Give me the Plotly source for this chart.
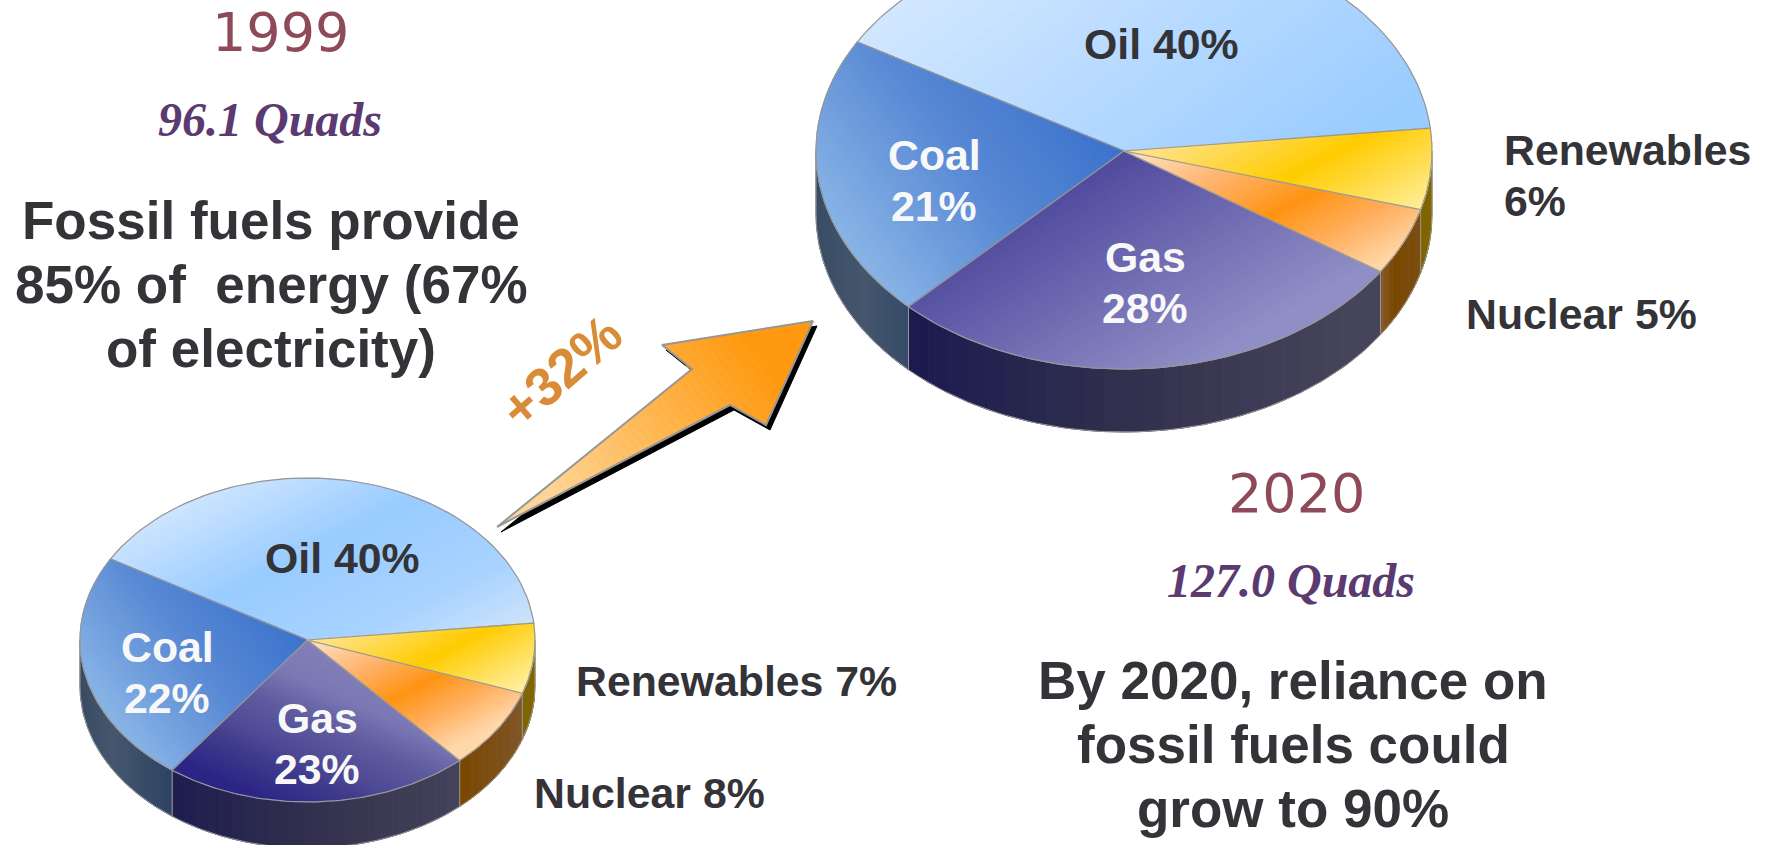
import numpy as np
import plotly.graph_objects as go

W, H = 1771, 845

fuels = ['Oil', 'Coal', 'Gas', 'Nuclear', 'Renewables']
shares_1999 = [40, 22, 23, 8, 7]
shares_2020 = [40, 21, 28, 5, 6]
# wedge sizes as drawn in the 1999 pie, coal is a bit wider than its label says
wedges_1999 = [40, 23.2, 21.8, 8, 7]
wedges_2020 = [40, 21, 28, 5, 6]
quads_1999 = 96.1
quads_2020 = 127.0
growth_pct = 32

DARK = '#333338'
EDGE = '#979797'

# gradient = (direction, [(position, colour), ...]), position is in pie radii from the centre
coal_top = ((-0.8, 0.6), [(0, '#3a72cc'), (0.45, '#5a8ad5'), (0.9, '#88b4e6')])
nuclear_top = ((0.47, 0.88), [(0.05, '#ffdcb4'), (0.22, '#ffb470'), (0.41, '#ff9412'),
                              (0.56, '#ffae5c'), (0.72, '#ffd8aa')])
renew_top = ((0.47, 0.88), [(0.03, '#ffe48c'), (0.33, '#ffcc00'), (0.62, '#ffee99')])
coal_side = ((1, 0), [(-1, '#3a4c64'), (-0.85, '#45576e'), (-0.55, '#2a3f62')])
gas_side = ((1, 0), [(-0.7, '#1b1a50'), (0, '#32304e'), (0.7, '#46445a')])
renew_side = ((1, 0), [(0.9, '#806600'), (1, '#806600')])

small_pie = dict(cx=307.5, cy=640, rx=227.5, ry=162, depth=46, start=6, top={
    'Oil': ((0.45, 0.89), [(-0.9, '#dcecff'), (-0.34, '#99ccff'), (0.08, '#a8d3ff'), (0.42, '#d2e6fb')]),
    'Coal': coal_top,
    'Gas': ((0.4, -0.9), [(-0.72, '#2a2585'), (-0.55, '#403c8c'), (-0.47, '#4e4a95'),
                          (-0.31, '#5f5ca0'), (-0.17, '#7a78b4'), (0.03, '#8580b8')]),
    'Nuclear': nuclear_top, 'Renewables': renew_top},
    side={'Coal': coal_side, 'Gas': gas_side, 'Renewables': renew_side,
          'Nuclear': ((1, 0), [(0.67, '#7a4800'), (0.95, '#80562a')])})

big_pie = dict(cx=1124, cy=151, rx=308, ry=218, depth=63, start=6, top={
    'Oil': ((0.6, 0.8), [(-0.9, '#d6e9ff'), (0.45, '#99ccff'), (1, '#99ccff')]),
    'Coal': coal_top,
    'Gas': ((0.5, 0.85), [(0, '#504a9e'), (0.72, '#908ec6')]),
    'Nuclear': nuclear_top, 'Renewables': renew_top},
    side={'Coal': coal_side, 'Gas': gas_side, 'Renewables': renew_side,
          'Nuclear': ((1, 0), [(0.83, '#8a5c34'), (0.88, '#7a4800'), (0.96, '#7c4e14')])})

fig = go.Figure()


def hex_rgb(c):
    return [int(c[i:i + 2], 16) for i in (1, 3, 5)]


def colour_at(stops, t):
    pos = [s[0] for s in stops]
    rgb = [hex_rgb(s[1]) for s in stops]
    vals = [int(np.interp(t, pos, [c[i] for c in rgb])) for i in range(3)]
    return 'rgb(%d,%d,%d)' % tuple(vals)


def clip(poly, d, limit, keep_above):
    # half plane clip of a polygon, keeps p.d >= limit or p.d <= limit
    out = []
    sign = 1 if keep_above else -1
    for i in range(len(poly)):
        p, q = poly[i], poly[(i + 1) % len(poly)]
        a = sign * (p[0] * d[0] + p[1] * d[1] - limit)
        b = sign * (q[0] * d[0] + q[1] * d[1] - limit)
        if a >= 0:
            out.append(p)
        if a * b < 0:
            f = a / (a - b)
            out.append((p[0] + f * (q[0] - p[0]), p[1] + f * (q[1] - p[1])))
    return out


def add_poly(pts, colour, width=1):
    xs = [p[0] for p in pts] + [pts[0][0]]
    ys = [p[1] for p in pts] + [pts[0][1]]
    fig.add_trace(go.Scatter(x=xs, y=ys, mode='lines', fill='toself', fillcolor=colour,
                             line=dict(color=colour, width=width), hoverinfo='skip',
                             showlegend=False))


def add_gradient(pts, grad, cx, cy, scale, n=40):
    # plotly fills only do axis aligned gradients, so cut the shape into thin bands
    d, stops = grad
    norm = np.hypot(d[0], d[1])
    d = (d[0] / norm, d[1] / norm)
    rel = [((x - cx) / scale, (y - cy) / scale) for x, y in pts]
    proj = [p[0] * d[0] + p[1] * d[1] for p in rel]
    edges = np.linspace(min(proj), max(proj), n + 1)
    for lo, hi in zip(edges[:-1], edges[1:]):
        band = clip(clip(rel, d, lo, True), d, hi, False)
        if len(band) > 2:
            add_poly([(x * scale + cx, y * scale + cy) for x, y in band],
                     colour_at(stops, (lo + hi) / 2))


def add_outline(pts, width=1.2):
    xs = [p[0] for p in pts] + [pts[0][0]]
    ys = [p[1] for p in pts] + [pts[0][1]]
    fig.add_trace(go.Scatter(x=xs, y=ys, mode='lines', line=dict(color=EDGE, width=width),
                             hoverinfo='skip', showlegend=False))


def add_pie(pie, shares):
    cx, cy, rx, ry, depth = pie['cx'], pie['cy'], pie['rx'], pie['ry'], pie['depth']
    ends = pie['start'] + np.cumsum(shares) * 3.6
    starts = np.concatenate([[pie['start']], ends[:-1]])

    def arc(a, b, drop=0):
        t = np.radians(np.linspace(a, b, 80))
        return list(zip(cx + rx * np.cos(t), cy - ry * np.sin(t) + drop))

    # front walls first, only the part of each slice below the ellipse centre shows
    for name, a, b in zip(fuels, starts, ends):
        lo, hi = max(a, 180), min(b, 360)
        if hi > lo:
            wall = arc(lo, hi) + arc(hi, lo, depth)
            add_gradient(wall, pie['side'][name], cx, cy, rx, n=24)
            add_outline(wall, 1)
    for name, a, b in zip(fuels, starts, ends):
        wedge = [(cx, cy)] + arc(a, b)
        add_gradient(wedge, pie['top'][name], cx, cy, rx, n=50)
        add_outline(wedge)


add_pie(small_pie, wedges_1999)
add_pie(big_pie, wedges_2020)

# growth arrow
arrow = [(497, 527), (692, 369), (662, 345), (813, 321), (766, 425), (730, 405)]
add_poly([(x + 4, y + 5) for x, y in arrow], 'black')
add_gradient(arrow, ((0.8, -0.6), [(-0.42, '#ffd595'), (0.42, '#ff9a10')]), 655, 424, 300, n=50)
add_outline(arrow, 2)

SANS = 'Liberation Sans'
SERIF = 'Liberation Serif'
THIN = 'DejaVu Sans ExtraLight, DejaVu Sans'


def label(text, x, y, size=42.8, colour=DARK, family=SANS, bold=True, italic=False,
          anchor='center', angle=0):
    if bold:
        text = '<b>%s</b>' % text
    if italic:
        text = '<i>%s</i>' % text
    fig.add_annotation(x=x, y=y, xref='x', yref='y', text=text, showarrow=False,
                       xanchor=anchor, yanchor='middle', textangle=angle,
                       font=dict(family=family, size=size, color=colour))


def share(pct_list, name):
    return pct_list[fuels.index(name)]


WHITE = '#f8f8f8'
YEAR = '#8f4a5a'
QUADS = '#5a3a70'

# 1999 side
label('1999', 280, 32, size=54, colour=YEAR, family=THIN, bold=False)
label('%.1f Quads' % quads_1999, 270, 119, size=48, colour=QUADS, family=SERIF, italic=True)
label('Fossil fuels provide', 271, 220, size=53)
label('85% of&nbsp; energy (67%', 271, 284, size=53)
label('of electricity)', 271, 348, size=53)
label('Oil %d%%' % share(shares_1999, 'Oil'), 342, 558)
label('Coal', 167, 647, colour=WHITE)
label('%d%%' % share(shares_1999, 'Coal'), 167, 698, colour=WHITE)
label('Gas', 317, 718, colour=WHITE)
label('%d%%' % share(shares_1999, 'Gas'), 317, 769, colour=WHITE)
label('Renewables %d%%' % share(shares_1999, 'Renewables'), 574, 681, anchor='left')
label('Nuclear %d%%' % share(shares_1999, 'Nuclear'), 532, 793, anchor='left')

label('+%d%%' % growth_pct, 561, 371, size=54, colour='#d98b35', angle=-41)

# 2020 side
label('Oil %d%%' % share(shares_2020, 'Oil'), 1161, 44)
label('Coal', 934, 155, colour=WHITE)
label('%d%%' % share(shares_2020, 'Coal'), 934, 206, colour=WHITE)
label('Gas', 1145, 257, colour=WHITE)
label('%d%%' % share(shares_2020, 'Gas'), 1145, 308, colour=WHITE)
label('Renewables', 1502, 150, anchor='left')
label('%d%%' % share(shares_2020, 'Renewables'), 1502, 201, anchor='left')
label('Nuclear %d%%' % share(shares_2020, 'Nuclear'), 1464, 314, anchor='left')
label('2020', 1296, 493, size=54, colour=YEAR, family=THIN, bold=False)
label('%.1f Quads' % quads_2020, 1291, 580, size=48, colour=QUADS, family=SERIF, italic=True)
label('By 2020, reliance on', 1293, 680, size=53)
label('fossil fuels could', 1293, 744, size=53)
label('grow to 90%', 1293, 808, size=53)

fig.update_layout(width=W, height=H, margin=dict(l=0, r=0, t=0, b=0),
                  paper_bgcolor='white', plot_bgcolor='white', showlegend=False,
                  xaxis=dict(range=[0, W], visible=False, fixedrange=True),
                  yaxis=dict(range=[H, 0], visible=False, fixedrange=True))

fig.write_html('out.html', config=dict(displayModeBar=False),
               post_script="document.body.style.margin='0';document.body.style.overflow='hidden';")
